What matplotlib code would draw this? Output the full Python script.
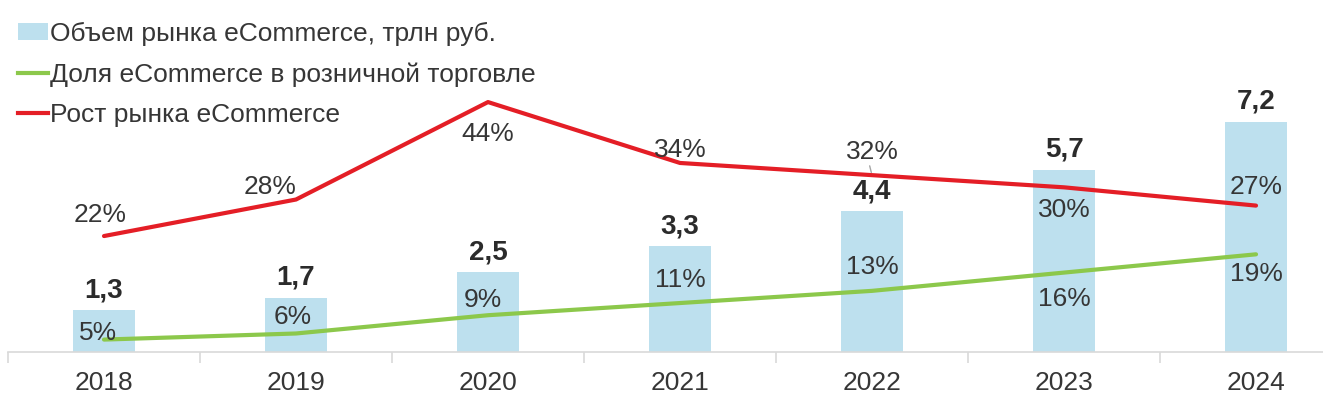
import numpy as np
import matplotlib.pyplot as plt
from matplotlib.patches import Patch
from matplotlib.lines import Line2D

plt.rcParams['font.family'] = ['Liberation Sans', 'DejaVu Sans']

years = ['2018', '2019', '2020', '2021', '2022', '2023', '2024']
volume = [1.3, 1.7, 2.5, 3.3, 4.4, 5.7, 7.2]
share = [5, 6, 9, 11, 13, 16, 19]
growth = [22, 28, 44, 34, 32, 30, 27]

bar_color = '#bde0ee'
green = '#8cc84b'
red = '#e41e26'
text_color = '#363636'

fig = plt.figure(figsize=(13.23, 4.08), dpi=100)
ax = fig.add_axes([8 / 1323, 56 / 408, 1344 / 1323, 352 / 408])
ax2 = ax.twinx()

x = np.arange(len(years))
ax.bar(x, volume, width=0.32, color=bar_color, zorder=1)
ax.set_xlim(-0.5, 6.5)
ax.set_ylim(0, 11.0)

ax2.plot(x, share, color=green, lw=3, solid_capstyle='round', zorder=3)
ax2.plot(x, growth, color=red, lw=3, solid_capstyle='round', zorder=3)
ax2.set_ylim(2.96, 60.76)

for a in (ax, ax2):
    for s in ['top', 'right', 'left']:
        a.spines[s].set_visible(False)
    a.set_yticks([])
ax2.spines['bottom'].set_visible(False)
ax.spines['bottom'].set_color('#d9d9d9')
ax.spines['bottom'].set_linewidth(1.2)

fs = 19
ax.set_xticks(x)
ax.set_xticklabels(years, fontsize=fs, color=text_color)
ax.tick_params(axis='x', which='major', length=0, pad=14)
ax.set_xticks(np.arange(-0.5, 7, 1), minor=True)
ax.tick_params(axis='x', which='minor', length=8, color='#d9d9d9', width=1.2)

# bar values
for i, v in enumerate(volume):
    ax.annotate(f'{v:.1f}'.replace('.', ','), (i, v), xytext=(0, 7), textcoords='offset pixels',
                ha='center', va='bottom', fontsize=20, fontweight='bold', color='#2b2b2b')

# growth labels (offsets in pixels from point)
growth_off = [(-4, 21), (-26, 13), (0, -32), (0, 13), (0, 23), (0, -23), (0, 19)]
for i, v in enumerate(growth):
    dx, dy = growth_off[i]
    ax2.annotate(f'{v}%', (i, v), xytext=(dx, dy), textcoords='offset pixels',
                 ha='center', va='center', fontsize=fs, color=text_color, zorder=5)
# leader line for 2022
ax2.annotate('', (4, 32), xytext=(-3, 12), textcoords='offset pixels',
             arrowprops=dict(arrowstyle='-', color='#a6a6a6', lw=1), zorder=4)

share_off = [(-6, 7), (-3, 16), (-5, 15), (0, 23), (0, 24), (0, -26), (0, -20)]
for i, v in enumerate(share):
    dx, dy = share_off[i]
    ax2.annotate(f'{v}%', (i, v), xytext=(dx, dy), textcoords='offset pixels',
                 ha='center', va='center', fontsize=fs, color=text_color, zorder=5)

handles = [Patch(facecolor=bar_color, edgecolor='none'),
           Line2D([], [], color=green, lw=3),
           Line2D([], [], color=red, lw=3)]
labels = ['Объем рынка eCommerce, трлн руб.',
          'Доля eCommerce в розничной торговле',
          'Рост рынка eCommerce']
leg = fig.legend(handles, labels, loc='upper left', bbox_to_anchor=(18 / 1323, 1 - 22 / 408),
                 frameon=False, fontsize=fs, handlelength=1.15, handleheight=0.6,
                 handletextpad=0.08, labelspacing=0.62, borderaxespad=0, borderpad=0)
for t in leg.get_texts():
    t.set_color(text_color)

fig.savefig('out.png', dpi=100)
